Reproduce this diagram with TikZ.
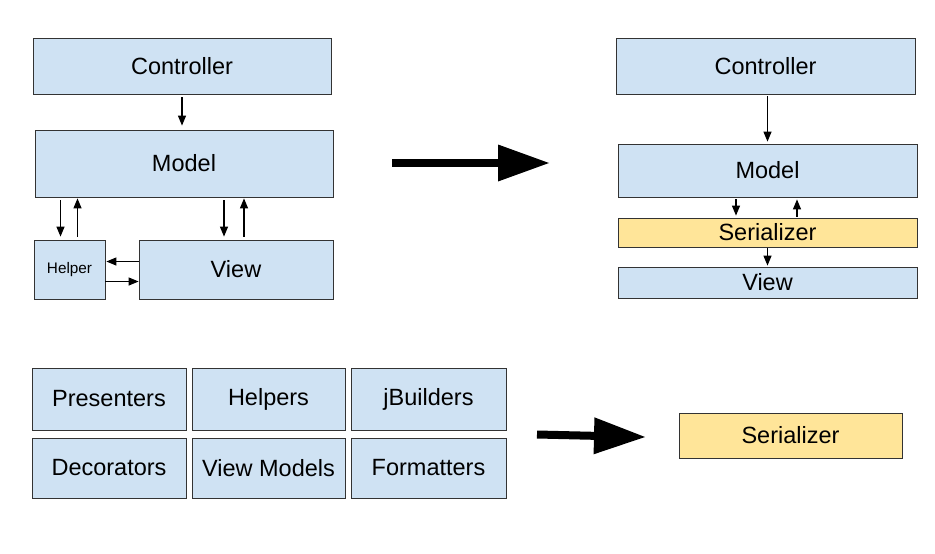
\documentclass[tikz,border=0pt]{standalone}
\usepackage{fontspec}
\setmainfont{Liberation Sans}
\usetikzlibrary{arrows.meta}
\definecolor{BoxBlue}{HTML}{CFE2F3}
\definecolor{BoxYellow}{HTML}{FFE599}
\begin{document}
\begin{tikzpicture}[x=1pt,y=-1pt,
    box/.style={draw=black!80, line width=.8pt, fill=BoxBlue, inner sep=0pt, font=\fontsize{23.5}{28}\selectfont},
    serbox/.style={box, fill=BoxYellow},
    conn/.style={line width=1.2pt, -{Triangle[length=10pt,width=8pt]}},
    bigarrow/.style={line width=8pt, -{Triangle[length=51pt,width=37pt,line width=0pt]}}]
    \useasboundingbox (0,0) rectangle (935,554);
    % old layout
    \node [box, minimum width=298pt, minimum height=55.5pt] (Controller) at (182,66.25) {Controller};
    \node [box, minimum width=298pt, minimum height=67pt] (Model) at (184,163.5) {Model};
    \node [box, minimum width=71pt, minimum height=59pt, font=\fontsize{15.3}{18}\selectfont] (Helper) at (69.5,269.5) {Helper};
    \node [box, minimum width=194pt, minimum height=59pt] (View) at (236,269.5) {View};
    \draw [conn, shorten <=3pt, shorten >=4pt] (Controller.south) -- (Controller.south |- Model.north);
    \draw [conn, shorten <=3pt, shorten >=3pt] ([xshift=-9pt]Helper.north |- Model.south) -- ([xshift=-9pt]Helper.north);
    \draw [conn, shorten <=3pt, shorten >=1pt] ([xshift=8pt]Helper.north) -- ([xshift=8pt]Helper.north |- Model.south);
    \draw [conn, shorten <=3pt, shorten >=3pt] ([xshift=-12pt]View.north |- Model.south) -- ([xshift=-12pt]View.north);
    \draw [conn, shorten <=3pt, shorten >=1pt] ([xshift=8pt]View.north) -- ([xshift=8pt]View.north |- Model.south);
    \draw [conn, shorten >=1pt] ([yshift=8pt]View.west) -- ([yshift=8pt]View.west -| Helper.east);
    \draw [conn] ([yshift=-12pt]Helper.east) -- ([yshift=-12pt]Helper.east -| View.west);
    % new layout
    \node [box, minimum width=299pt, minimum height=56pt] (ControllerNew) at (765.5,66) {Controller};
    \node [box, minimum width=299pt, minimum height=53pt] (ModelNew) at (767.5,170.5) {Model};
    \node [serbox, minimum width=299pt, minimum height=29pt] (Serializer) at (767.5,232.5) {Serializer};
    \node [box, minimum width=299pt, minimum height=31pt] (ViewNew) at (767.5,282.5) {View};
    \draw [conn, shorten <=2pt, shorten >=2pt] (ModelNew.north |- ControllerNew.south) -- (ModelNew.north);
    \draw [conn, shorten <=2pt, shorten >=2pt] ([xshift=-31.5pt]Serializer.north |- ModelNew.south) -- ([xshift=-31.5pt]Serializer.north);
    \draw [conn, shorten <=1pt, shorten >=2pt] ([xshift=29.5pt]Serializer.north) -- ([xshift=29.5pt]Serializer.north |- ModelNew.south);
    \draw [conn, shorten <=1pt, shorten >=1pt] (Serializer.south) -- (ViewNew.north);
    % view helpers
    \node [box, minimum width=154pt, minimum height=62pt] (Presenters) at (109,399) {Presenters};
    \node [box, minimum width=153pt, minimum height=62pt] (Helpers) at (268.5,399) {Helpers};
    \node [box, minimum width=155pt, minimum height=62pt] (JBuilders) at (428.5,399) {jBuilders};
    \node [box, minimum width=154pt, minimum height=60pt] (Decorators) at (109,468) {Decorators};
    \node [box, minimum width=153pt, minimum height=60pt] (ViewModels) at (268.5,468) {View Models};
    \node [box, minimum width=155pt, minimum height=60pt] (Formatters) at (428.5,468) {Formatters};
    \node [serbox, minimum width=223pt, minimum height=45pt] (SerializerAlone) at (790.5,435.5) {Serializer};
    % big arrows
    \coordinate (ArrowTopStart)    at (392,163);
    \coordinate (ArrowTopEnd)      at (549,163);
    \coordinate (ArrowBottomStart) at (537,434.5);
    \coordinate (ArrowBottomEnd)   at (645,437);
    \draw [bigarrow] (ArrowTopStart) -- (ArrowTopEnd);
    \draw [bigarrow] (ArrowBottomStart) -- (ArrowBottomEnd);
\end{tikzpicture}
\end{document}
